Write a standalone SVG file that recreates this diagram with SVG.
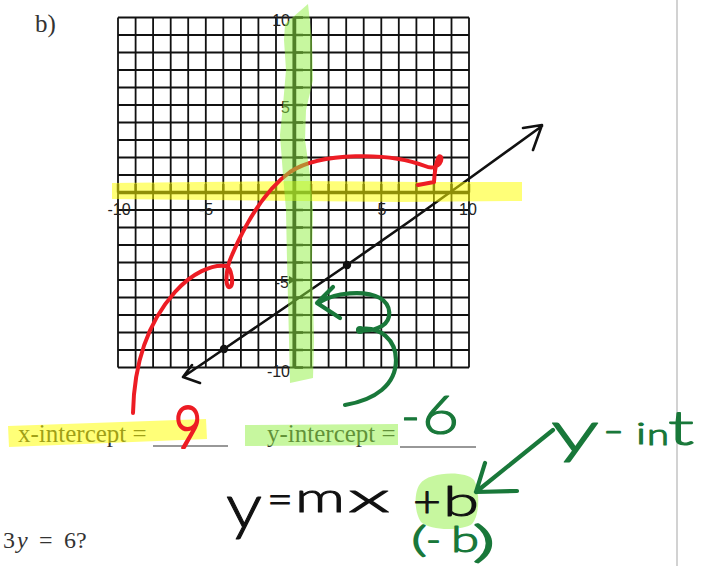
<svg xmlns="http://www.w3.org/2000/svg" width="701" height="566" viewBox="0 0 701 566">
<style>
.grid{fill:none;stroke:#111;stroke-width:1.8}
.axis{fill:none;stroke:#111;stroke-width:3.5}
.tick{fill:none;stroke:#111;stroke-width:2.4}
.lbl{font-family:"Liberation Sans",Arial,sans-serif;font-size:16px;fill:#222}
.serif{font-family:"Liberation Serif","Times New Roman",serif;fill:#333}
.ink{fill:none;stroke-linecap:round;stroke-linejoin:round}
.red{stroke:#ed1c24;stroke-width:4}
.grn{stroke:#19783a;stroke-width:4.2}
.blk{stroke:#111;stroke-width:2.6}
.hand{font-family:"Lato","Inter","Noto Sans",sans-serif;font-weight:300;stroke-linejoin:round}
.g{fill:#19783a;stroke:#19783a;stroke-width:1.2}
.k{fill:#111;stroke:#111;stroke-width:1}
.r{fill:#ed1c24;stroke:#ed1c24;stroke-width:2.2}
.hy{fill:#ffff00;opacity:0.53}
.hg{fill:#90f040;opacity:0.5}
</style>
<rect width="701" height="566" fill="#fff"/>
<line x1="677" y1="0" x2="677" y2="566" stroke="#d2d2d2" stroke-width="2"/>
<text class="serif" x="35" y="32" font-size="25" fill="#222">b)</text>

<g id="grid">
<path class="grid" d="M118 17.5V367.5M135.6 17.5V367.5M153.1 17.5V367.5M170.7 17.5V367.5M188.2 17.5V367.5M205.8 17.5V367.5M223.3 17.5V367.5M240.9 17.5V367.5M258.4 17.5V367.5M276 17.5V367.5M293.5 17.5V367.5M311.1 17.5V367.5M328.6 17.5V367.5M346.2 17.5V367.5M363.7 17.5V367.5M381.3 17.5V367.5M398.8 17.5V367.5M416.4 17.5V367.5M433.9 17.5V367.5M451.5 17.5V367.5M469 17.5V367.5
M118 17.5H469M118 35H469M118 52.5H469M118 70H469M118 87.5H469M118 105H469M118 122.5H469M118 140H469M118 157.5H469M118 175H469M118 192.5H469M118 210H469M118 227.5H469M118 245H469M118 262.5H469M118 280H469M118 297.5H469M118 315H469M118 332.5H469M118 350H469M118 367.5H469"/>
</g>
<g id="axes">
<path class="axis" d="M118 192.5H469M294.5 17.5V367.5"/>
<path class="tick" d="M118 184V192.5M135.6 184V192.5M153.1 184V192.5M170.7 184V192.5M188.2 184V192.5M205.8 184V192.5M223.3 184V192.5M240.9 184V192.5M258.4 184V192.5M276 184V192.5M311.1 184V192.5M328.6 184V192.5M346.2 184V192.5M363.7 184V192.5M381.3 184V192.5M398.8 184V192.5M416.4 184V192.5M433.9 184V192.5M451.5 184V192.5M469 184V192.5
M294.5 17.5H303M294.5 35H303M294.5 52.5H303M294.5 70H303M294.5 87.5H303M294.5 105H303M294.5 122.5H303M294.5 140H303M294.5 157.5H303M294.5 175H303M294.5 210H303M294.5 227.5H303M294.5 245H303M294.5 262.5H303M294.5 280H303M294.5 297.5H303M294.5 315H303M294.5 332.5H303M294.5 350H303M294.5 367.5H303"/>
<path d="M289 276L296 280L289 284Z" fill="#111"/>
<text class="lbl" x="290" y="26" text-anchor="end">10</text>
<text class="lbl" x="290" y="113" text-anchor="end">5</text>
<text class="lbl" x="289" y="288" text-anchor="end">-5</text>
<text class="lbl" x="290" y="377" text-anchor="end">-10</text>
<text class="lbl" x="119" y="215" text-anchor="middle">-10</text>
<text class="lbl" x="206" y="215" text-anchor="middle">-5</text>
<text class="lbl" x="382" y="215" text-anchor="middle">5</text>
<text class="lbl" x="468" y="215" text-anchor="middle">10</text>
</g>

<g id="connectors">
<path id="graph-line" class="ink blk" d="M183 377L224 349L347 265L410 221L470 178L542 126M192 365L183 377L200 383M523 128L542 125L533 150"/>
<circle cx="224" cy="349" r="4.2" fill="#111"/>
<circle cx="347" cy="265" r="4.2" fill="#111"/>
</g>

<g id="answers">
<text class="serif" x="18" y="442" font-size="25">x-intercept =</text>
<path d="M153 446H228M400 447H476" stroke="#777" stroke-width="1.6"/>
<text class="serif" x="267" y="442" font-size="25">y-intercept =</text>
<text class="serif" font-size="24" y="548" fill="#222"><tspan x="3">3</tspan><tspan x="17" font-style="italic">y</tspan><tspan x="39">=</tspan><tspan x="64">6?</tspan></text>
</g>

<g id="highlights-yellow">
<path class="hy" d="M112 183L200 182L300 181L420 182L522 182L522 201L400 202L300 201L112 199Z"/>
<path class="hy" d="M8 426L206 419L207 439L9 447Z"/>
</g>

<g id="red-arrow">
<path class="ink red" d="M133 413C134 360 150 320 175 292C192 273 212 264 226 266C232 268 234 285 230 287C225 289 225 270 232 255C245 225 265 190 290 172C320 152 390 152 425 166C436 171 443 162 441 157C438 153 435 166 434 182M418 185L434 182"/>
<text class="hand r" x="174" y="448" font-size="60" textLength="28" lengthAdjust="spacingAndGlyphs">9</text>
</g>

<g id="highlights-green">
<path class="hg" d="M285 24L308 4L312 40L313 80L306 110L305 140L310 175L313 210L312 260L313 300L314 340L313 378L290 383L289 340L288 300L287 260L286 210L283 175L280 135L283 105L286 70L284 40Z"/>
<path class="hg" d="M245 425L398 424L398 445L245 446Z"/>
<path class="hg" d="M420 484C428 472 465 470 474 480C480 490 480 515 472 524C462 531 430 531 421 522C414 512 414 492 420 484Z"/>
</g>

<g id="green-ink">
<path class="ink grn" d="M333 287L317 303L340 318M318 303C335 292 365 290 380 298C392 305 392 320 382 326C375 330 365 331 358 330M360 329C380 326 396 340 396 360C396 385 375 400 345 405"/>
<circle cx="360" cy="330" r="4" fill="#19783a"/>
<path class="ink grn" d="M553 430L476 492M485 463L476 492L517 491"/>
<text class="hand g" x="401" y="435" font-size="54" stroke-width="2" textLength="19" lengthAdjust="spacingAndGlyphs">-</text>
<text class="hand g" x="422" y="434" font-size="54" stroke-width="2" textLength="37" lengthAdjust="spacingAndGlyphs">6</text>
<text class="hand g" x="551" y="452" font-size="58" textLength="48" lengthAdjust="spacingAndGlyphs">y</text>
<text class="hand g" x="603" y="444" font-size="40" textLength="21" lengthAdjust="spacingAndGlyphs">-</text>
<text class="hand g" x="636" y="444" font-size="30" stroke-width="1.6" textLength="10" lengthAdjust="spacingAndGlyphs">i</text>
<text class="hand g" x="647" y="445" font-size="30" stroke-width="1.6" textLength="22" lengthAdjust="spacingAndGlyphs">n</text>
<text class="hand g" x="668" y="445" font-size="48" textLength="26" lengthAdjust="spacingAndGlyphs">t</text>
<text class="hand g" x="411" y="552" font-size="35" stroke-width="1.6" textLength="16" lengthAdjust="spacingAndGlyphs">(</text>
<text class="hand g" x="426" y="552" font-size="35" stroke-width="1.6" textLength="15" lengthAdjust="spacingAndGlyphs">-</text>
<text class="hand g" x="451" y="552" font-size="35" textLength="28" lengthAdjust="spacingAndGlyphs">b</text>
<text class="hand g" x="472" y="557" font-size="43" stroke-width="1.6" textLength="24" lengthAdjust="spacingAndGlyphs">)</text>
</g>

<g id="equation">
<text class="hand k" x="226" y="528" font-size="62" textLength="36" lengthAdjust="spacingAndGlyphs">y</text>
<text class="hand k" x="267" y="515" font-size="44" textLength="26" lengthAdjust="spacingAndGlyphs">=</text>
<text class="hand k" x="295" y="512" font-size="42" textLength="50" lengthAdjust="spacingAndGlyphs">m</text>
<text class="hand k" x="348" y="512" font-size="42" textLength="42" lengthAdjust="spacingAndGlyphs">x</text>
<text class="hand k" x="413" y="517" font-size="44" textLength="28" lengthAdjust="spacingAndGlyphs">+</text>
<text class="hand k" x="443" y="516" font-size="42" textLength="36" lengthAdjust="spacingAndGlyphs">b</text>
</g>
</svg>
